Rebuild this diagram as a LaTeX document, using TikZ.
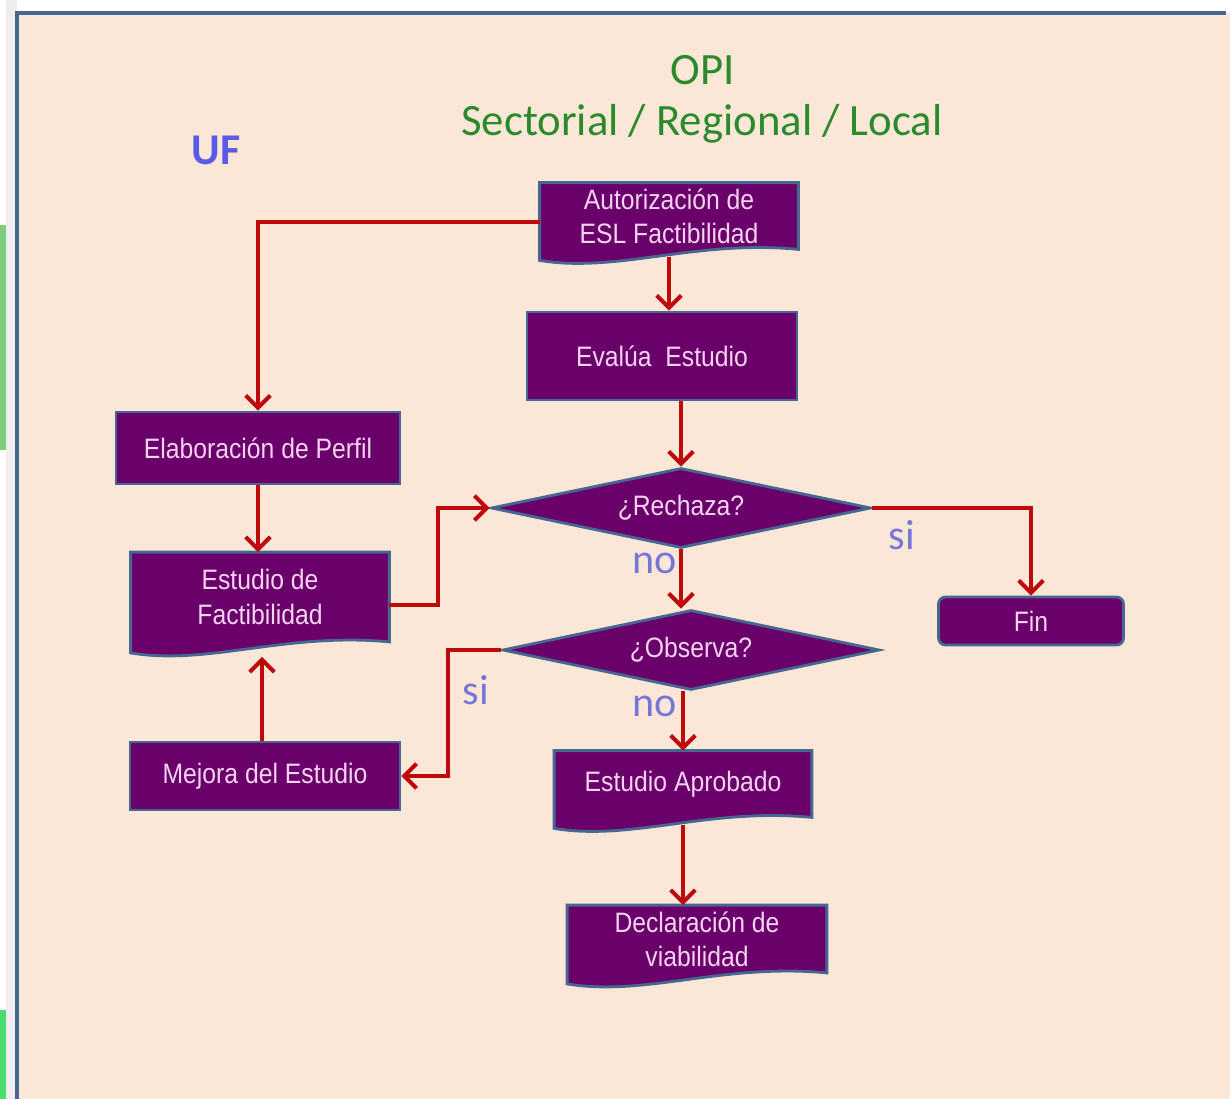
\documentclass[tikz,border=0pt]{standalone}
\usepackage{fontspec}
\setmainfont{Liberation Sans}
\newfontfamily\calfont{Carlito}
\newfontfamily\boxfont[FakeStretch=0.88]{Liberation Sans}
\usetikzlibrary{shapes.geometric,arrows.meta,calc}

\definecolor{peach}{HTML}{FBE7D8}
\definecolor{boxpurple}{HTML}{6A006A}
\definecolor{boxedge}{HTML}{46678F}
\definecolor{boxtext}{HTML}{F5D2F0}
\definecolor{flowred}{HTML}{BE0A0A}
\definecolor{opigreen}{HTML}{2B8A2B}
\definecolor{labblue}{HTML}{7676D8}
\definecolor{ufblue}{HTML}{5A5AE6}
\definecolor{framegrey}{HTML}{EFEDEF}

\pgfdeclarelayer{frame}
\pgfdeclarelayer{shapes}
\pgfsetlayers{frame,shapes,main}

\tikzset{
  box/.style={draw=boxedge, line width=1.6pt, fill=boxpurple, text=boxtext,
    font=\boxfont\fontsize{16}{19.5}\selectfont, align=center, inner sep=0pt},
  docbox/.style={box, draw=none, fill=none},
  decision/.style={box, diamond, aspect=4.72, minimum width=#1, minimum height=1.6cm},
  flow/.style={draw=flowred, line width=2.3pt, -{Straight Barb[length=7pt,width=14pt]}},
  yesno/.style={text=labblue, font=\calfont\fontsize{24}{28}\selectfont},
  heading/.style={font=\calfont\fontsize{25.5}{30}\selectfont}
}

% document shape with wavy bottom, drawn behind the text node
\newcommand\docshape[1]{%
  \begin{pgfonlayer}{shapes}
    \filldraw[draw=boxedge, line width=1.6pt, fill=boxpurple]
      (#1.north west) -- (#1.north east) -- (#1.south east)
      .. controls ($(#1.south west)!0.6!(#1.south east)+(0,-10)$)
             and ($(#1.south west)!0.3!(#1.south east)+(0,24)$)
      .. ($(#1.south west)+(0,11)$) -- cycle;
  \end{pgfonlayer}}

\begin{document}
\begin{tikzpicture}[x=0.02cm, y=-0.02cm]
\useasboundingbox (0,0) rectangle (1230,1099);

% frame
\begin{pgfonlayer}{frame}
\fill[white] (0,0) rectangle (1230,1099);
\fill[framegrey] (6,0) rectangle (17,1099);
\fill[green!45!gray!70] (0,225) rectangle (6,450);
\fill[green!60!teal!70] (0,1010) rectangle (6,1099);
\fill[peach] (17,13) rectangle (1230,1099);
\draw[boxedge, line width=2.3pt] (17,1099) -- (17,13) -- (1226,13);
\end{pgfonlayer}

% headings
\node[heading, text=opigreen] (opi) at (703,70) {OPI};
\node[heading, text=opigreen] (sector) at (702,124) {Sectorial / Regional / Local};
\node[heading, text=ufblue, font=\calfont\bfseries\fontsize{25}{30}\selectfont] (uf) at (216,150) {UF};

% steps
\node[docbox, minimum width=5.12cm, minimum height=1.28cm] (autoriz) at (669,216) {Autorización de\\ESL Factibilidad};
\docshape{autoriz}
\node[box, minimum width=5.4cm, minimum height=1.76cm] (evalua) at (662,356) {Evalúa\ \ Estudio};
\node[box, minimum width=5.68cm, minimum height=1.44cm] (perfil) at (258,448) {Elaboración de Perfil};
\node[decision=7.6cm] (rechaza) at (681,508) {¿Rechaza?};
\node[box, rounded corners=4pt, minimum width=3.7cm, minimum height=0.96cm] (fin) at (1031,621) {Fin};
\node[docbox, minimum width=5.12cm, minimum height=1.74cm] (estudio) at (260,597) {Estudio de\\Factibilidad};
\docshape{estudio}
\node[decision=7.54cm] (observa) at (691,650) {¿Observa?};
\node[box, minimum width=5.4cm, minimum height=1.36cm] (mejora) at (265,776) {Mejora del Estudio};
\node[docbox, minimum width=5.1cm, minimum height=1.28cm] (aprobado) at (683,784) {Estudio Aprobado};
\docshape{aprobado}
\node[docbox, minimum width=5.14cm, minimum height=1.3cm] (declara) at (697,939) {Declaración de\\viabilidad};
\docshape{declara}

% answers
\node[yesno] (si1) at (902,535) {si};
\node[yesno] (no1) at (655,563) {no};
\node[yesno] (si2) at (476,690) {si};
\node[yesno] (no2) at (655,706) {no};

% connectors
\draw[flow] ($(autoriz.west)+(0,6)$) -| (perfil.north);
\draw[flow] ($(autoriz.south)+(0,8)$) -- (autoriz.south |- evalua.north);
\draw[flow] (rechaza.north |- evalua.south) -- (rechaza.north);
\draw[flow] (perfil.south) -- (perfil.south |- estudio.north);
\draw[flow] ($(estudio.east)+(0,8)$) -- ++(49,0) |- (rechaza.west);
\draw[flow] (rechaza.east) -| (fin.north);
\draw[flow] (rechaza.south) -- (rechaza.south |- observa.north);
\draw[flow] (observa.west) -- ++(-53,0) |- (mejora.east);
\draw[flow] (aprobado.north |- observa.south) -- (aprobado.north);
\draw[flow] ($(mejora.north)+(-3,0)$) -- ($(estudio.south)+(2,15)$);
\draw[flow] ($(aprobado.south)+(0,8)$) -- (aprobado.south |- declara.north);
\end{tikzpicture}
\end{document}
